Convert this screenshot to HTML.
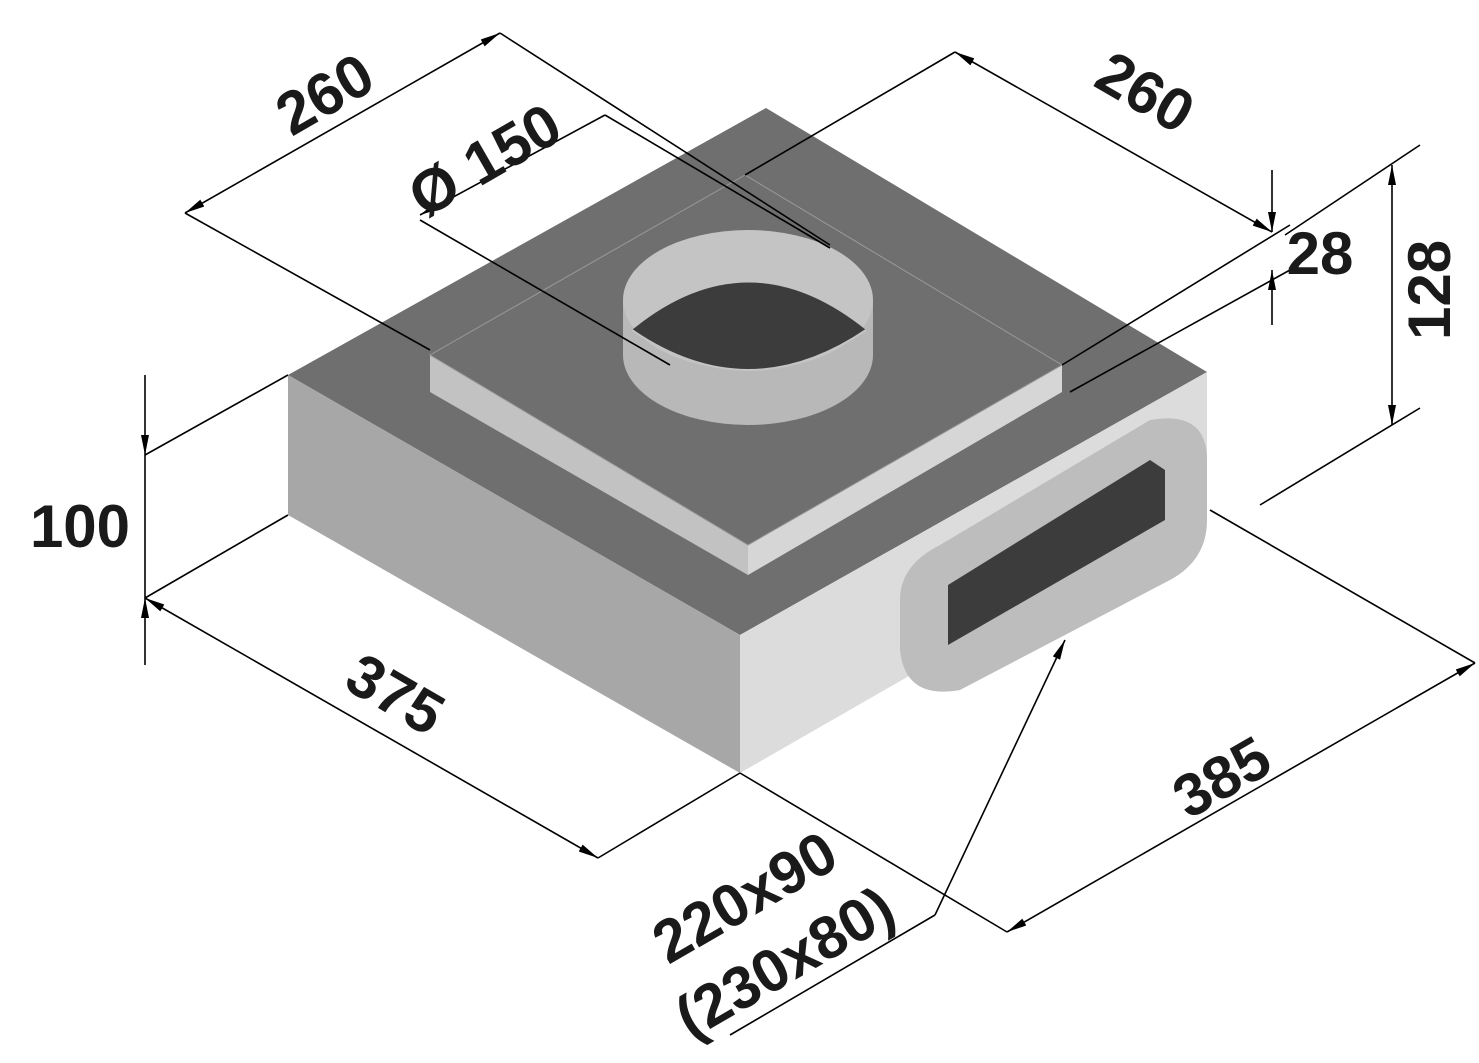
<!DOCTYPE html>
<html><head><meta charset="utf-8"><style>html,body{margin:0;padding:0;background:#fff}svg{display:block}</style></head><body>
<svg width="1479" height="1063" viewBox="0 0 1479 1063" xmlns="http://www.w3.org/2000/svg">
<defs><marker id="a" viewBox="0 0 20 10" refX="20" refY="5" markerWidth="20" markerHeight="10" orient="auto-start-reverse" markerUnits="userSpaceOnUse"><path d="M0,1 L20,5 L0,9 z" fill="#000"/></marker></defs>
<polygon points="766,108 288,375 740,635 1207,372" fill="#6f6f6f"/>
<polygon points="288,375 740,635 740,773 288,515" fill="#a7a7a8"/>
<polygon points="740,635 1207,372 1207,505 740,773" fill="#dcdcdc"/>
<polygon points="430,355 748,545 748,575 430,392" fill="#c2c2c2"/>
<polygon points="748,545 1062,365 1062,392 748,575" fill="#d6d6d6"/>
<polygon points="745,175 430,355 748,545 1062,365" fill="#6f6f6f" stroke="#9a9a9a" stroke-width="1"/>
<ellipse cx="748" cy="355" rx="125" ry="70" fill="#b8b8b8"/>
<rect x="623" y="300" width="250" height="55" fill="#b8b8b8"/>
<ellipse cx="748" cy="300" rx="125" ry="70" fill="#c4c4c4"/>
<path d="M632,330 Q748,235 866,330 Q748,410 632,330 z" fill="#3c3c3c"/>
<path d="M632,330 Q748,410 866,330" fill="none" stroke="#c4c4c4" stroke-width="2"/>
<path d="M940,545 L1150,420 Q1207,410 1207,460 L1207,520 Q1207,560 1170,580 L960,690 Q905,700 900,650 L900,600 Q900,565 940,545 z" fill="#bdbdbd"/>
<polygon points="948,585 1150,460 1165,470 1165,520 948,645" fill="#3c3c3c"/>
<g stroke="#000" stroke-width="1.6" fill="none">
<line x1="185" y1="213" x2="500" y2="33" marker-start="url(#a)" marker-end="url(#a)"/>
<line x1="500" y1="33" x2="830" y2="245"/>
<line x1="185" y1="213" x2="430" y2="350"/>
<line x1="420" y1="215" x2="605" y2="115" marker-start="url(#a)"/>
<line x1="605" y1="115" x2="830" y2="248"/>
<line x1="420" y1="220" x2="670" y2="365"/>
<line x1="955" y1="52" x2="1272" y2="232" marker-start="url(#a)" marker-end="url(#a)"/>
<line x1="955" y1="52" x2="745" y2="175"/>
<line x1="1062" y1="365" x2="1290" y2="225"/>
<line x1="1070" y1="392" x2="1290" y2="270"/>
<line x1="1272" y1="170" x2="1272" y2="232" marker-end="url(#a)"/>
<line x1="1272" y1="325" x2="1272" y2="270" marker-end="url(#a)"/>
<line x1="1285" y1="235" x2="1420" y2="145"/>
<line x1="1260" y1="505" x2="1420" y2="408"/>
<line x1="1392" y1="165" x2="1392" y2="425" marker-start="url(#a)" marker-end="url(#a)"/>
<line x1="145" y1="375" x2="145" y2="455" marker-end="url(#a)"/>
<line x1="145" y1="665" x2="145" y2="598" marker-end="url(#a)"/>
<line x1="145" y1="455" x2="145" y2="598"/>
<line x1="145" y1="455" x2="288" y2="375"/>
<line x1="145" y1="598" x2="288" y2="515"/>
<line x1="145" y1="598" x2="598" y2="858" marker-start="url(#a)" marker-end="url(#a)"/>
<line x1="598" y1="858" x2="740" y2="773"/>
<line x1="1007" y1="932" x2="1475" y2="663" marker-start="url(#a)" marker-end="url(#a)"/>
<line x1="740" y1="773" x2="1007" y2="932"/>
<line x1="1210" y1="510" x2="1475" y2="663"/>
<line x1="935" y1="915" x2="1065" y2="640" marker-end="url(#a)"/>
<line x1="935" y1="915" x2="730" y2="1035"/>
</g>
<g font-family="Liberation Sans, sans-serif" font-weight="bold" font-size="60" fill="#1a1a1a" text-anchor="middle">
<text transform="translate(335,112) rotate(-30)">260</text>
<text transform="translate(495,178) rotate(-30)">Ø 150</text>
<text transform="translate(1135,110) rotate(30)">260</text>
<text x="1320" y="274">28</text>
<text transform="translate(1450,290) rotate(-90)">128</text>
<text x="80" y="547">100</text>
<text transform="translate(385,712) rotate(30)">375</text>
<text transform="translate(1232,795) rotate(-30)">385</text>
<text transform="translate(755,915) rotate(-30)">220x90</text>
<text transform="translate(795,980) rotate(-30)">(230x80)</text>
</g>
</svg>
</body></html>
